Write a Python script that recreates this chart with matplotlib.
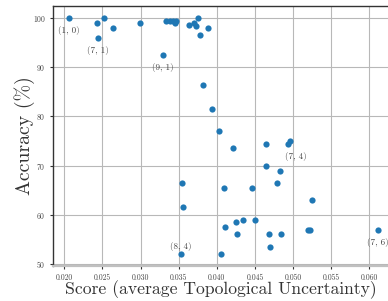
import matplotlib
matplotlib.use("Agg")
import matplotlib.pyplot as plt

plt.rcParams["font.family"] = "serif"
plt.rcParams["font.serif"] = ["cmr10", "DejaVu Serif"]
plt.rcParams["mathtext.fontset"] = "cm"
plt.rcParams["axes.formatter.use_mathtext"] = True

# score (average topological uncertainty) and accuracy per model
score = [0.0206, 0.0243, 0.0244, 0.0252, 0.0264, 0.0299, 0.0329, 0.0334, 0.0339,
         0.0343, 0.0345, 0.0347, 0.0363, 0.0370, 0.0373, 0.0375, 0.0378, 0.0389,
         0.0382, 0.0394, 0.0403, 0.0421, 0.0465, 0.0494, 0.0496, 0.0355, 0.0409,
         0.0446, 0.0465, 0.0483, 0.0479, 0.0356, 0.0353, 0.0406, 0.0411, 0.0425,
         0.0427, 0.0435, 0.0450, 0.0468, 0.0470, 0.0484, 0.0519, 0.0522, 0.0525,
         0.0611]
accuracy = [100, 99, 96, 100, 98, 99, 92.5, 99.5, 99.5,
            99.4, 99, 99.5, 98.5, 99.1, 98.4, 100, 96.5, 98,
            86.5, 81.5, 77, 73.5, 74.5, 74.5, 75, 66.5, 65.5,
            65.5, 70, 69, 66.5, 61.5, 52, 52, 57.5, 58.5,
            56, 59, 59, 56, 53.5, 56, 57, 57, 63,
            57]

# annotated points: label, point, offset in points
labels = ["(1, 0)", "(7, 1)", "(9, 1)", "(8, 4)", "(7, 4)", "(7, 6)"]
label_x = [0.0206, 0.0244, 0.0329, 0.0353, 0.0496, 0.0611]
label_y = [100, 96, 92.5, 52, 75, 57]
label_dx = [0, 0, 0, 0, 4, 0]
label_dy = [-9, -9, -9, 5.5, -11, -9.5]

fig = plt.figure(figsize=(3.88, 3.01), dpi=100)
ax = fig.add_axes([0.1374, 0.1173, 0.8626, 0.8617])

ax.grid(True, color="#b8b8b8", linewidth=0.8)
ax.set_axisbelow(True)
ax.scatter(score, accuracy, s=20, color="#1f77b4", zorder=3, linewidths=0)

for lab, x, y, dx, dy in zip(labels, label_x, label_y, label_dx, label_dy):
    ax.annotate(lab, (x, y), xytext=(dx, dy), textcoords="offset points",
                ha="center", va="center", fontsize=6.5, color="#444444")

ax.set_xlim(0.01856, 0.06245)
ax.set_ylim(49.65, 102.4)
ax.set_xticks([0.020, 0.025, 0.030, 0.035, 0.040, 0.045, 0.050, 0.055, 0.060])
ax.set_xticklabels(["0.020", "0.025", "0.030", "0.035", "0.040", "0.045",
                    "0.050", "0.055", "0.060"])
ax.set_yticks([50, 60, 70, 80, 90, 100])
ax.tick_params(labelsize=5.5, labelcolor="#444444", length=2.5, width=0.8,
               pad=3, color="#333333")

for side in ["left", "top"]:
    ax.spines[side].set_color("#333333")
    ax.spines[side].set_linewidth(1.0)
ax.spines["bottom"].set_color("#c0c0c0")
ax.spines["bottom"].set_linewidth(1.6)
ax.spines["right"].set_visible(False)

ax.set_xlabel("Score (average Topological Uncertainty)", fontsize=12.7,
              color="#333333", labelpad=-1)
ax.set_ylabel("Accuracy (%)", fontsize=14.3, color="#333333", labelpad=-2)

fig.savefig("out.png", dpi=100)
